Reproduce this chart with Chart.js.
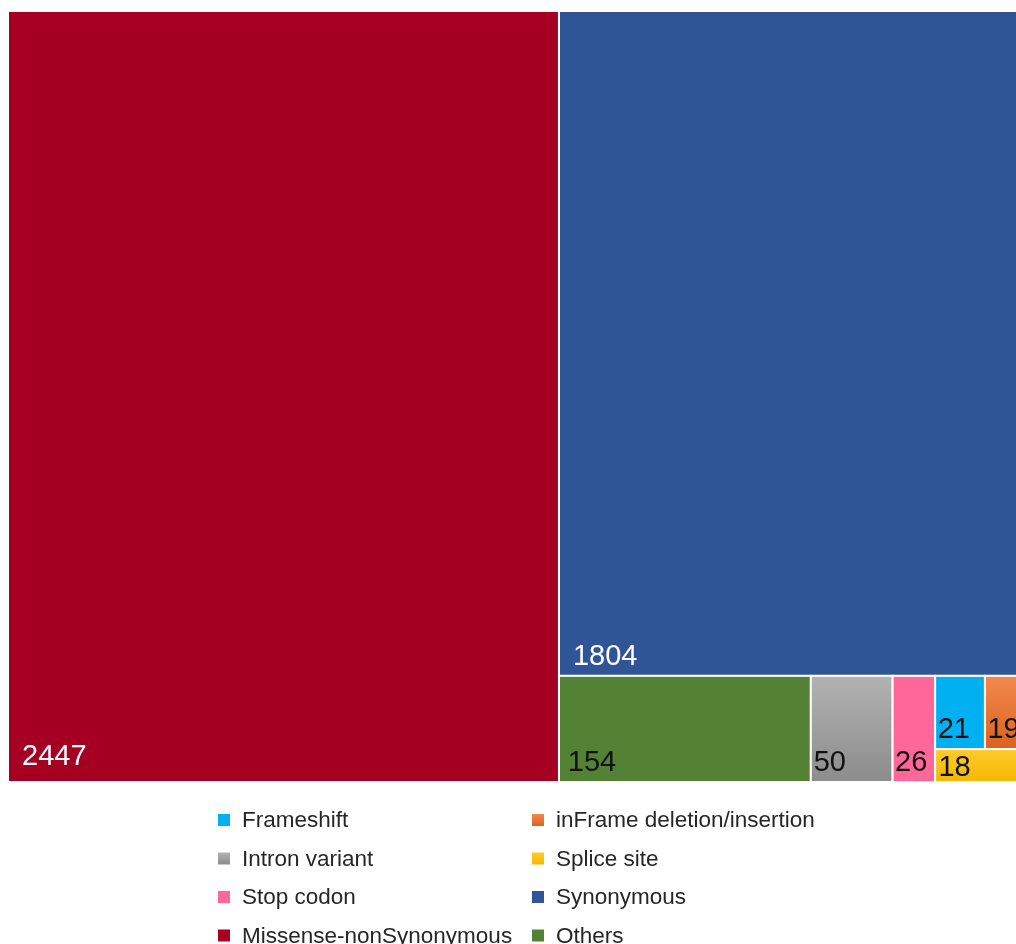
<!DOCTYPE html>
<html>
<head>
<meta charset="utf-8">
<script src="https://cdn.jsdelivr.net/npm/chart.js@4"></script>
<style>
  html, body { margin: 0; padding: 0; background: #ffffff; overflow: hidden; }
  #wrap { position: relative; width: 1030px; height: 944px; }
</style>
</head>
<body>
<div id="wrap"><canvas id="c" width="1030" height="944"></canvas></div>
<script>
// ---- data ----
const categories = ['Missense-nonSynonymous', 'Synonymous', 'Others', 'Intron variant', 'Stop codon', 'Frameshift', 'inFrame deletion/insertion', 'Splice site'];
const counts = [2447, 1804, 154, 50, 26, 21, 19, 18];
// number of items laid out in each strip of the treemap (in order)
const stripSizes = [1, 1, 1, 1, 1, 2, 1];
const legendOrder = ['Frameshift', 'inFrame deletion/insertion', 'Intron variant', 'Splice site', 'Stop codon', 'Synonymous', 'Missense-nonSynonymous', 'Others'];

// ---- styles ----
const fillColors = {
  'Missense-nonSynonymous': ['#A50021', '#A50021'],
  'Synonymous': ['#2F5597', '#2F5597'],
  'Others': ['#548235', '#548235'],
  'Intron variant': ['#B2B2B2', '#8C8C8C'],
  'Stop codon': ['#FF6699', '#FF6699'],
  'Frameshift': ['#00B0F0', '#00B0F0'],
  'inFrame deletion/insertion': ['#F28A4C', '#D9631F'],
  'Splice site': ['#FFCB2E', '#F5B700']
};
const labelColors = {
  'Missense-nonSynonymous': '#ffffff',
  'Synonymous': '#ffffff'
};

// strip layout in pixel-aspect space, returns fractions of the area
function layout(W, H) {
  const rects = [];
  let x = 0, y = 0, w = W, h = H;
  let remaining = counts.reduce((a, b) => a + b, 0);
  let idx = 0;
  for (const n of stripSizes) {
    const items = counts.slice(idx, idx + n);
    const sum = items.reduce((a, b) => a + b, 0);
    const frac = sum / remaining;
    if (w >= h) {
      const cw = w * frac;
      let cy = y;
      items.forEach((v, k) => {
        const ch = h * v / sum;
        rects.push({ i: idx + k, x0: x / W, y0: cy / H, x1: (x + cw) / W, y1: (cy + ch) / H });
        cy += ch;
      });
      x += cw; w -= cw;
    } else {
      const rh = h * frac;
      let cx = x;
      items.forEach((v, k) => {
        const rw = w * v / sum;
        rects.push({ i: idx + k, x0: cx / W, y0: y / H, x1: (cx + rw) / W, y1: (y + rh) / H });
        cx += rw;
      });
      y += rh; h -= rh;
    }
    remaining -= sum;
    idx += n;
  }
  return rects;
}

const treemapPlugin = {
  id: 'treemapDraw',
  afterDatasetsDraw(chart) {
    const { ctx, chartArea, scales } = chart;
    const xs = scales.x, ys = scales.y;
    const rects = layout(chartArea.width, chartArea.height);
    ctx.save();
    rects.forEach(r => {
      const name = categories[r.i];
      const px0 = xs.getPixelForValue(r.x0), px1 = xs.getPixelForValue(r.x1);
      const py0 = ys.getPixelForValue(r.y0), py1 = ys.getPixelForValue(r.y1);
      const left = Math.min(px0, px1), right = Math.max(px0, px1);
      const top = Math.min(py0, py1), bottom = Math.max(py0, py1);
      const [c1, c2] = fillColors[name];
      let fill = c1;
      if (c1 !== c2) {
        const g = ctx.createLinearGradient(0, top, 0, bottom);
        g.addColorStop(0, c1); g.addColorStop(1, c2);
        fill = g;
      }
      ctx.fillStyle = fill;
      ctx.fillRect(left, top, right - left, bottom - top);
      ctx.strokeStyle = '#ffffff';
      ctx.lineWidth = 2;
      ctx.strokeRect(left, top, right - left, bottom - top);
      // label
      const w = right - left, h = bottom - top;
      const padX = w > 300 ? 14 : Math.max(2.5, w * 0.035);
      const padY = h > 700 ? 17 : (h > 60 ? 11 : 6);
      ctx.fillStyle = labelColors[name] || '#111111';
      ctx.font = '29px "Liberation Sans", Arial, sans-serif';
      ctx.textAlign = 'left';
      ctx.textBaseline = 'alphabetic';
      ctx.fillText(String(counts[r.i]), left + padX, bottom - padY);
    });
    // legend (two columns)
    ctx.font = '22.5px "Liberation Sans", Arial, sans-serif';
    ctx.textBaseline = 'middle';
    const colX = [218, 532];
    const rowY0 = 820, rowStep = 38.5;
    legendOrder.forEach((name, k) => {
      const col = k % 2, row = Math.floor(k / 2);
      const mx = colX[col], my = rowY0 + row * rowStep;
      const [c1, c2] = fillColors[name];
      const g = ctx.createLinearGradient(0, my - 6, 0, my + 6);
      g.addColorStop(0, c1); g.addColorStop(1, c2);
      ctx.fillStyle = g;
      ctx.fillRect(mx, my - 6, 12, 12);
      ctx.fillStyle = '#262626';
      ctx.fillText(name, mx + 24, my + 1);
    });
    ctx.restore();
  }
};

new Chart(document.getElementById('c'), {
  type: 'scatter',
  data: { datasets: [{ label: 'values', data: [] }] },
  options: {
    responsive: false,
    animation: false,
    devicePixelRatio: 1,
    layout: { padding: { left: 8, top: 11, right: 0, bottom: 162 } },
    plugins: { legend: { display: false }, tooltip: { enabled: false } },
    scales: {
      x: { type: 'linear', min: 0, max: 1, display: false },
      y: { type: 'linear', min: 0, max: 1, reverse: true, display: false }
    }
  },
  plugins: [treemapPlugin]
});
</script>
</body>
</html>
